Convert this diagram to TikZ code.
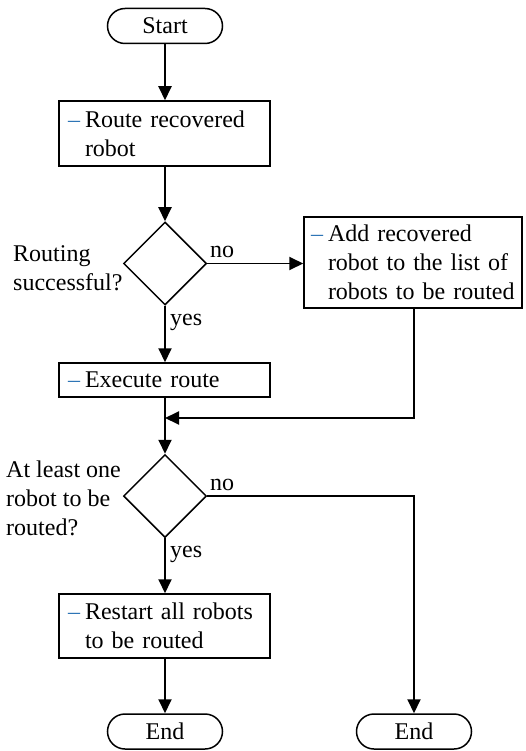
\documentclass[tikz,border=0pt]{standalone}
\usepackage{fontspec}
\setmainfont{Liberation Serif}
\usetikzlibrary{shapes.geometric,shapes.misc,arrows.meta}
\definecolor{dashblue}{RGB}{46,117,182}
\newcommand{\bdash}{\llap{\textcolor{dashblue}{–}\hspace{5pt}}}
\begin{document}
\begin{tikzpicture}[x=1pt,y=-1pt,
  font=\fontsize{24}{29}\selectfont,
  every node/.style={inner sep=0pt},
  term/.style={rounded rectangle, draw, line width=1.5pt, minimum width=115pt, minimum height=35pt},
  proc/.style={rectangle, draw, line width=1.5pt, align=left},
  dec/.style={diamond, draw, line width=1.5pt, minimum width=83pt, minimum height=83pt},
  flow/.style={line width=1.9pt, -{Triangle[length=14pt,width=13pt]}},
  lbl/.style={align=left}
]
\useasboundingbox (0,0) rectangle (525,751);

\node[term] (start) at (165,26) {Start};
\node[proc, minimum width=211pt, minimum height=65pt, text width=159pt] (b1) at (164.5,133.5)
  {\bdash\mbox{Route recovered}\\robot};
\node[dec] (d1) at (165,263.5) {};
\node[proc, minimum width=218pt, minimum height=91pt, text width=170pt] (b2) at (413,262.5)
  {\bdash\mbox{Add recovered}\\\mbox{robot to the list of}\\\mbox{robots to be routed}};
\node[proc, minimum width=211pt, minimum height=34pt, text width=159pt] (b3) at (164.5,380)
  {\bdash\mbox{Execute route}};
\coordinate (m) at (165,418);
\node[dec] (d2) at (165,496) {};
\node[proc, minimum width=211pt, minimum height=64pt, text width=159pt] (b4) at (164.5,626)
  {\bdash\mbox{Restart all robots}\\\mbox{to be routed}};
\node[term] (e1) at (165,731.5) {End};
\node[term] (e2) at (414,731.5) {End};

\node[lbl, anchor=west] (q1) at (13,268) {Routing\\successful?};
\node[lbl, anchor=west] (q2) at (6,498) {At least one\\robot to be\\routed?};
\node[anchor=base west] (no1) at (210,257) {no};
\node[anchor=base west] (yes1) at (170,325) {yes};
\node[anchor=base west] (no2) at (210,490) {no};
\node[anchor=base west] (yes2) at (170,557) {yes};

\draw[flow] (start.south) -- (start.south |- b1.north);
\draw[flow] (b1.south -| d1) -- (d1.north);
\draw[flow] (d1.east) -- (d1.east -| b2.west);
\draw[flow] (d1.south) -- (d1.south |- b3.north);
\draw[flow] (b2.south -| e2) |- (m);
\draw[flow] (b3.south -| d2) -- (d2.north);
\draw[flow] (d2.south) -- (d2.south |- b4.north);
\draw[flow] (b4.south -| d2) -- (e1.north);
\draw[flow] (d2.east) -| (e2.north);
\end{tikzpicture}
\end{document}
